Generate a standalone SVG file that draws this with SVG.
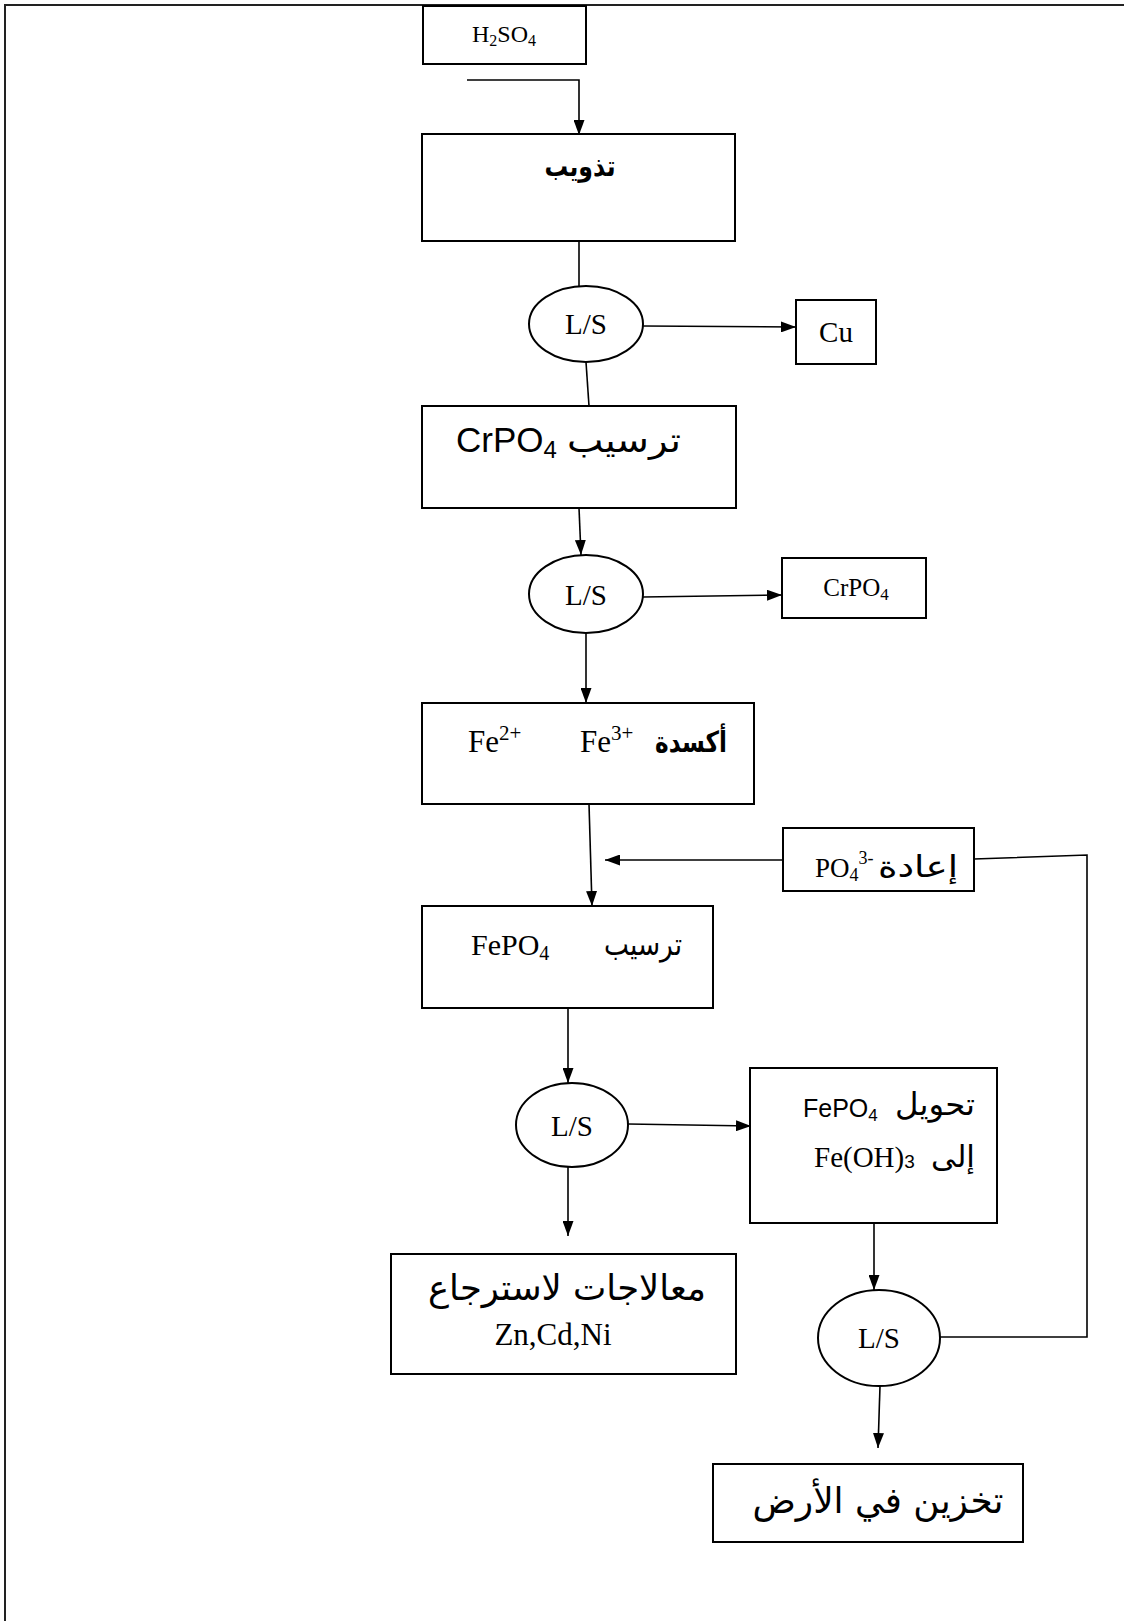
<svg xmlns="http://www.w3.org/2000/svg" width="1124" height="1621" viewBox="0 0 1124 1621">
<defs>
<style>
.bx{fill:#fff;stroke:#000;stroke-width:2}
.ln{fill:none;stroke:#000;stroke-width:1.6}
.ar{marker-end:url(#ah)}
.tr{font-family:"Liberation Serif","Times New Roman",serif;fill:#000}
.ss{font-family:"Liberation Sans",Arial,sans-serif;fill:#000}
.ab{font-family:"DejaVu Sans","Noto Sans",sans-serif;fill:#000}
</style>
<marker id="ah" viewBox="0 0 15 11" refX="15" refY="5.5" markerWidth="15" markerHeight="11" markerUnits="userSpaceOnUse" orient="auto">
<path d="M0,0 L15,5.5 L0,11 z" fill="#000"/>
</marker>
</defs>
<rect width="1124" height="1621" fill="#fff"/>
<path d="M5,1625 V5 H1130" fill="none" stroke="#222" stroke-width="2"/>

<g id="connectors">
<path class="ln ar" d="M467,80 H579 V135"/>
<path class="ln" d="M579,241 L579,287"/>
<path class="ln" d="M586,362 L589,406"/>
<path class="ln ar" d="M643,326 L796,327"/>
<path class="ln ar" d="M579,508 L581,555"/>
<path class="ln ar" d="M643,597 L782,595"/>
<path class="ln ar" d="M586,633 L586,703"/>
<path class="ln ar" d="M589,804 L592,906"/>
<path class="ln ar" d="M784,860 L605,860"/>
<path class="ln" d="M974,859 L1087,855 V1337 H940"/>
<path class="ln ar" d="M568,1008 L568,1083"/>
<path class="ln ar" d="M628,1124 L751,1126"/>
<path class="ln ar" d="M568,1167 L568,1236"/>
<path class="ln ar" d="M874,1224 L874,1290"/>
<path class="ln ar" d="M880,1386 L878,1448"/>
</g>

<g id="n-h2so4">
<rect class="bx" x="423" y="6" width="163" height="58"/>
<text class="tr" x="504" y="42" font-size="24" text-anchor="middle">H<tspan font-size="16" dy="4">2</tspan><tspan dy="-4">SO</tspan><tspan font-size="16" dy="4">4</tspan></text>
</g>

<g id="n-dissolve">
<rect class="bx" x="422" y="134" width="313" height="107"/>
<text class="ab" x="580" y="176" font-size="28" font-weight="bold" text-anchor="middle" textLength="71" lengthAdjust="spacingAndGlyphs">تذويب</text>
</g>

<g id="n-ls1">
<ellipse class="bx" cx="586" cy="324" rx="57" ry="38" stroke-width="1.6"/>
<text class="tr" x="586" y="334" font-size="29" text-anchor="middle">L/S</text>
</g>

<g id="n-cu">
<rect class="bx" x="796" y="300" width="80" height="64"/>
<text class="tr" x="836" y="342" font-size="29" text-anchor="middle">Cu</text>
</g>

<g id="n-crpo4-precip">
<rect class="bx" x="422" y="406" width="314" height="102"/>
<text class="ss" x="456" y="452" font-size="35">CrPO<tspan font-size="24" dy="6">4</tspan></text>
<text class="ab" x="624" y="452" font-size="34" text-anchor="middle" textLength="114" lengthAdjust="spacingAndGlyphs">ترسيب</text>
</g>

<g id="n-ls2">
<ellipse class="bx" cx="586" cy="594" rx="57" ry="39" stroke-width="1.6"/>
<text class="tr" x="586" y="605" font-size="29" text-anchor="middle">L/S</text>
</g>

<g id="n-crpo4">
<rect class="bx" x="782" y="558" width="144" height="60"/>
<text class="tr" x="856" y="596" font-size="25" text-anchor="middle">CrPO<tspan font-size="17" dy="4">4</tspan></text>
</g>

<g id="n-oxid">
<rect class="bx" x="422" y="703" width="332" height="101"/>
<text class="tr" x="468" y="752" font-size="31">Fe<tspan font-size="21" dy="-12">2+</tspan></text>
<text class="tr" x="580" y="752" font-size="31">Fe<tspan font-size="21" dy="-12">3+</tspan></text>
<text class="ab" x="691" y="752" font-size="29" font-weight="bold" text-anchor="middle" textLength="72" lengthAdjust="spacingAndGlyphs">أكسدة</text>
</g>

<g id="n-po4">
<rect class="bx" x="783" y="828" width="191" height="63"/>
<text class="tr" x="815" y="877" font-size="27">PO<tspan font-size="18" dy="4">4</tspan><tspan font-size="18" dy="-17">3-</tspan></text>
<text class="ab" x="918" y="877" font-size="30" text-anchor="middle" textLength="80" lengthAdjust="spacingAndGlyphs">إعادة</text>
</g>

<g id="n-fepo4-precip">
<rect class="bx" x="422" y="906" width="291" height="102"/>
<text class="tr" x="471" y="955" font-size="30">FePO<tspan font-size="20" dy="5">4</tspan></text>
<text class="ab" x="643" y="955" font-size="31" text-anchor="middle" textLength="78" lengthAdjust="spacingAndGlyphs">ترسيب</text>
</g>

<g id="n-ls3">
<ellipse class="bx" cx="572" cy="1125" rx="56" ry="42" stroke-width="1.6"/>
<text class="tr" x="572" y="1136" font-size="29" text-anchor="middle">L/S</text>
</g>

<g id="n-convert">
<rect class="bx" x="750" y="1068" width="247" height="155"/>
<text class="ss" x="803" y="1117" font-size="25">FePO<tspan font-size="17" dy="4">4</tspan></text>
<text class="ab" x="935" y="1115" font-size="31" text-anchor="middle" textLength="80" lengthAdjust="spacingAndGlyphs">تحويل</text>
<text class="tr" x="814" y="1167" font-size="29">Fe(OH)<tspan class="ss" font-size="19" dy="1">3</tspan></text>
<text class="ab" x="953" y="1167" font-size="30" text-anchor="middle" textLength="44" lengthAdjust="spacingAndGlyphs">إلى</text>
</g>

<g id="n-recover">
<rect class="bx" x="391" y="1254" width="345" height="120"/>
<text class="ab" x="567" y="1300" font-size="35" text-anchor="middle" textLength="278" lengthAdjust="spacingAndGlyphs">معالاجات لاسترجاع</text>
<text class="tr" x="553" y="1345" font-size="31" text-anchor="middle">Zn,Cd,Ni</text>
</g>

<g id="n-ls4">
<ellipse class="bx" cx="879" cy="1338" rx="61" ry="48" stroke-width="1.6"/>
<text class="tr" x="879" y="1348" font-size="29" text-anchor="middle">L/S</text>
</g>

<g id="n-storage">
<rect class="bx" x="713" y="1464" width="310" height="78"/>
<text class="ab" x="878" y="1513" font-size="36" text-anchor="middle" textLength="251" lengthAdjust="spacingAndGlyphs">تخزين في الأرض</text>
</g>
</svg>
